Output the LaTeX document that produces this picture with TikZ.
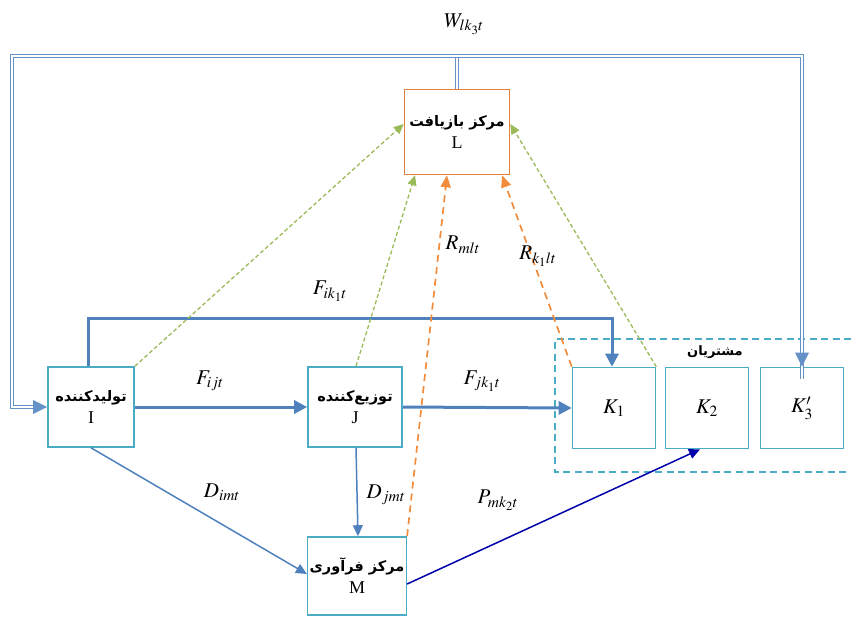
\documentclass[tikz,border=0pt]{standalone}
\usepackage{mathptmx}
\usepackage{fontspec}
\setmainfont{Liberation Serif}
\newfontfamily\arabicfont[Script=Arabic]{DejaVu Sans}
\TeXXeTstate=1
\usetikzlibrary{arrows.meta}
\definecolor{boxcyan}{RGB}{75,172,198}
\definecolor{lorange}{RGB}{228,128,58}
\definecolor{flowblue}{RGB}{79,129,189}
\definecolor{gdash}{RGB}{155,187,89}
\definecolor{odash}{RGB}{240,140,60}
\definecolor{pblue}{RGB}{0,0,170}
\definecolor{wblue}{RGB}{100,145,200}
\newcommand{\fatext}[1]{{\arabicfont\bfseries\fontsize{14.5}{18}\selectfont\beginR #1\endR}}
\begin{document}
\begin{tikzpicture}[x=1pt,y=-1pt,
  box/.style={draw=boxcyan,line width=1.6pt,fill=white,minimum width=86pt,minimum height=80pt,align=center,inner sep=2pt,font=\fontsize{18}{21}\selectfont},
  kbox/.style={draw=boxcyan,line width=1.6pt,fill=white,minimum width=83pt,minimum height=81pt,font=\fontsize{21}{25}\selectfont},
  fa/.style={font=\arabicfont\bfseries\fontsize{13}{16}\selectfont},
  lab/.style={font=\fontsize{21}{25}\selectfont},
  thickflow/.style={draw=flowblue,line width=3pt,-{Triangle[length=13pt,width=13pt]}},
  thinflow/.style={draw=flowblue,line width=1.5pt,-{Triangle[length=11pt,width=10pt]}},
  gflow/.style={draw=gdash,line width=1.3pt,dash pattern=on 4pt off 2.5pt,-{Triangle[length=10pt,width=9pt]}},
  oflow/.style={draw=odash,line width=1.7pt,dash pattern=on 7pt off 5pt,-{Triangle[length=12pt,width=10pt]}},
  pflow/.style={draw=pblue,line width=1.5pt,-{Triangle[length=11pt,width=10pt]}},
  wflow/.style={draw=wblue,line width=1pt,double=white,double distance=1.8pt},
  region/.style={draw=boxcyan,line width=1.7pt,dash pattern=on 7pt off 4.5pt}]
\useasboundingbox (0,0) rectangle (851,619);

% nodes
\node[box,draw=lorange,minimum width=105pt,minimum height=85pt] (L) at (457,132) {\fatext{مرکز بازیافت}\\[1pt] L};
\node[box] (I) at (91,407) {\fatext{تولیدکننده}\\[1pt] I};
\node[box,minimum width=94pt] (J) at (355,407) {\fatext{توزیع‌کننده}\\[1pt] J};
\node[box,minimum width=98pt,minimum height=78pt] (M) at (357,576) {\fatext{مرکز فرآوری}\\[1pt] M};
\node[kbox] (K1) at (614,408) {$K_1$};
\node[kbox] (K2) at (707,408) {$K_2$};
\node[kbox] (K3) at (802,408) {$K_3'$};

% customer region
\draw[region] (851,339) -- (555,339) -- (555,472) -- (851,472);
\node[fa] (cust) at (715,352) {\beginR مشتریان\endR};

% W double lines
\coordinate (wtop) at (457,56);
\coordinate (wl) at (12,56);
\draw[wflow] (L.north) -- (wtop);
\draw[wflow] (wtop) -- (wl) |- ([xshift=-12pt]I.west);
\draw[wflow] (wtop) -| ([yshift=-12pt]K3.north);
\draw[draw=none,fill=wblue] (I.west) -- ++(-14,-7) -- ++(0,14) -- cycle;
\draw[draw=none,fill=wblue] (K3.north) -- ++(-7,-14) -- ++(14,0) -- cycle;
\node[lab] (lW) at (464,24) {$W_{lk_3t}$};

% F flows
\coordinate (ftop) at (300,318);
\draw[thickflow] ([xshift=-3pt]I.north) |- (ftop) -| ([xshift=-2pt]K1.north);
\node[lab] (lF1) at (330,291) {$F_{ik_1t}$};
\draw[thickflow] (I.east) -- (J.west);
\node[lab] (lF2) at (210,381) {$F_{ijt}$};
\draw[thickflow] (J.east) -- (K1.west);
\node[lab] (lF3) at (482,381) {$F_{jk_1t}$};

% D flows
\draw[thinflow] (I.south) -- ([yshift=2pt]M.west);
\node[lab] (lD1) at (222,492) {$D_{imt}$};
\draw[thinflow] ([xshift=1pt]J.south) -- ([xshift=1pt]M.north);
\node[lab] (lD2) at (386,495) {$D_{jmt}$};

% P flow
\draw[pflow] ([yshift=-8pt]M.east) -- ([xshift=-7pt]K2.south);
\node[lab] (lP) at (498,500) {$P_{mk_2t}$};

% R flows (orange dashed)
\draw[oflow] (M.north east) -- ([xshift=-10pt]L.south);
\node[lab] (lR1) at (463,245) {$R_{mlt}$};
\draw[oflow] (K1.north west) -- ([xshift=45pt]L.south);
\node[lab] (lR2) at (538,256) {$R_{k_1lt}$};

% green dashed
\draw[gflow] (I.north east) -- ([yshift=8pt]L.west);
\draw[gflow] ([xshift=1pt]J.north) -- ([xshift=-42pt]L.south);
\draw[gflow] (K1.north east) -- ([yshift=8pt]L.east);
\end{tikzpicture}
\end{document}
